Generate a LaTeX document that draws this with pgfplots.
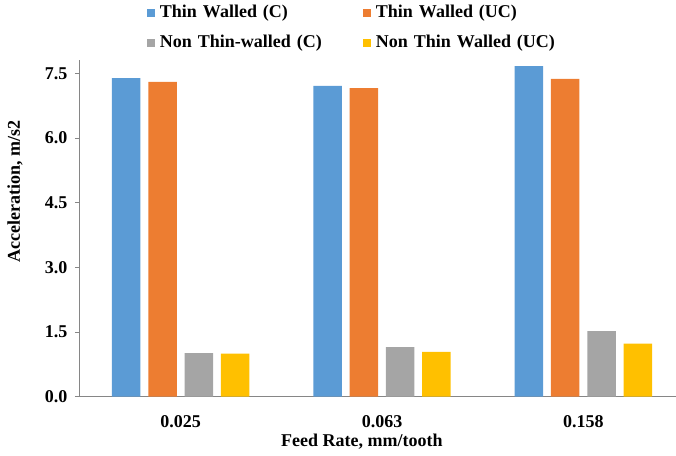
\documentclass[border=0pt]{standalone}
\usepackage{fontspec}
\setmainfont{Liberation Serif}
\usepackage{pgfplots}
\pgfplotsset{compat=1.18}
\definecolor{cBlue}{HTML}{5B9BD5}
\definecolor{cOrange}{HTML}{ED7D31}
\definecolor{cGray}{HTML}{A5A5A5}
\definecolor{cGold}{HTML}{FFC000}
\definecolor{axisgray}{HTML}{868686}
\newcommand{\chartfont}{\bfseries\fontsize{18}{22}\selectfont}
\begin{document}
\begin{tikzpicture}
\useasboundingbox (-80pt,-58.3pt) rectangle (596pt,396.7pt);
\begin{axis}[
  at={(0pt,0pt)}, anchor=south west,
  scale only axis, width=596pt, height=336.7pt,
  ybar=7.8pt, bar width=28.5pt,
  xmin=-0.5, xmax=2.46, ymin=0, ymax=7.81,
  axis x line*=bottom, axis y line*=left,
  axis line style={-, draw=axisgray, line width=1pt},
  xtick={0,1,2}, xticklabels={0.025,0.063,0.158},
  ytick={0,1.5,3,4.5,6,7.5},
  major x tick style={draw=none},
  major y tick style={draw=axisgray, line width=0.8pt},
  tick align=outside, major tick length=5pt,
  /pgf/number format/assume math mode=true,
  tick label style={font=\chartfont, text=black},
  yticklabel style={xshift=-4pt, /pgf/number format/fixed,
    /pgf/number format/fixed zerofill, /pgf/number format/precision=1},
  xticklabel style={yshift=-10pt},
  xlabel={Feed Rate, mm/tooth},
  ylabel={Acceleration, m/s2},
  label style={font=\chartfont},
  xlabel style={at={(axis description cs:0.473,-0.1335)}, anchor=center},
  ylabel style={at={(axis description cs:-0.109,0.609)}, anchor=center},
  legend columns=2,
  legend style={at={(0.112,1.166)}, anchor=north west, draw=none, fill=none,
    inner sep=0pt, row sep=13pt, font=\chartfont,
    nodes={inner xsep=5pt, inner ysep=0pt, text height=13pt, text depth=4pt,
      anchor=west, text width=190pt, align=left},
    /tikz/every even column/.append style={column sep=8pt}},
  legend image code/.code={\fill[#1] (0pt,-4pt) rectangle (8pt,4pt);},
]
\addplot[fill=cBlue, draw=none] coordinates {(0,7.39) (1,7.21) (2,7.67)};
\addplot[fill=cOrange, draw=none] coordinates {(0,7.30) (1,7.16) (2,7.37)};
\addplot[fill=cGray, draw=none] coordinates {(0,1.01) (1,1.15) (2,1.52)};
\addplot[fill=cGold, draw=none] coordinates {(0,1.00) (1,1.04) (2,1.23)};
\legend{Thin Walled (C), Thin Walled (UC), Non Thin-walled (C), Non Thin Walled (UC)}
\end{axis}
\end{tikzpicture}
\end{document}
